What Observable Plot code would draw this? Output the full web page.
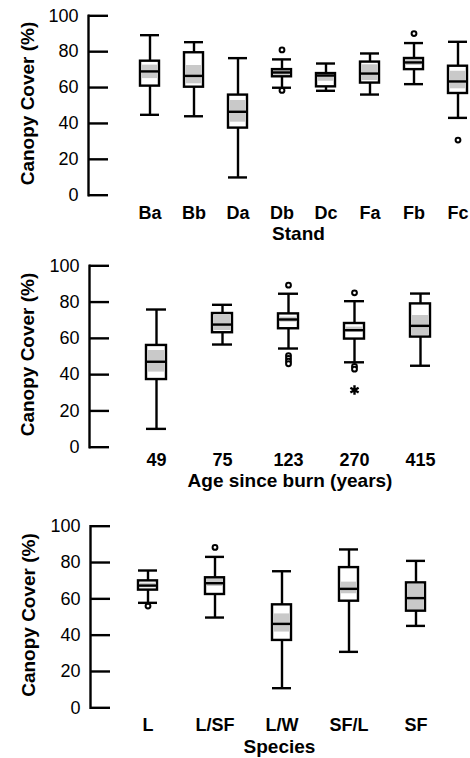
<!DOCTYPE html>
<html>
<head>
<meta charset="utf-8">
<script src="https://cdn.jsdelivr.net/npm/d3@7"></script>
<script src="https://cdn.jsdelivr.net/npm/@observablehq/plot@0.6"></script>
<style>
  html, body { margin: 0; padding: 0; background: #fff; }
  #chart svg { display: block; }
</style>
</head>
<body>
<div id="chart"></div>
<script>
// ---- Data ----
const yTicks = [0, 20, 40, 60, 80, 100];

// Panel 1: Stand
const stands    = ["Ba", "Bb", "Da", "Db", "Dc", "Fa", "Fb", "Fc"];
const standLo   = [44.8, 44.0,  9.9, 59.9, 58.2, 56.1, 61.9, 43.1];
const standQ1   = [60.8, 60.2, 37.4, 66.0, 60.4, 62.5, 70.0, 56.7];
const standMed  = [69.0, 66.5, 46.5, 68.4, 66.7, 67.8, 74.0, 63.4];
const standQ3   = [74.7, 79.4, 55.8, 70.0, 67.8, 74.2, 76.2, 71.9];
const standHi   = [89.2, 85.3, 76.4, 75.7, 73.4, 79.0, 84.8, 85.5];
const standCiLo = [65.0, 62.1, 40.7, 66.7, 63.5, 63.9, 72.3, 59.3];
const standCiHi = [72.5, 72.3, 52.8, 70.0, 67.8, 72.7, 75.5, 69.1];
const standOutCat = ["Db", "Db", "Fb", "Fc"];
const standOutVal = [81.0, 58.4, 90.1, 30.7];

// Panel 2: Age since burn
const ages    = ["49", "75", "123", "270", "415"];
const ageLo   = [10.1, 56.6, 54.4, 46.8, 44.9];
const ageQ1   = [37.3, 63.1, 65.3, 59.6, 60.7];
const ageMed  = [47.1, 67.6, 70.4, 64.5, 66.9];
const ageQ3   = [56.1, 73.7, 73.5, 68.2, 79.0];
const ageHi   = [75.9, 78.5, 84.6, 80.5, 84.7];
const ageCiLo = [41.4, 64.3, 68.9, 63.4, 61.6];
const ageCiHi = [53.3, 72.6, 71.7, 66.2, 72.6];
const ageOutCat = ["123", "123", "123", "123", "123", "270", "270", "270"];
const ageOutVal = [89.3, 50.5, 49.0, 47.5, 46.0, 85.1, 44.5, 43.0];
const ageExtCat = ["270"];
const ageExtVal = [31.5];

// Panel 3: Species
const species   = ["L", "L/SF", "L/W", "SF/L", "SF"];
const spLo      = [57.8, 49.7, 10.8, 30.8, 45.1];
const spQ1      = [64.8, 62.4, 37.1, 58.7, 53.2];
const spMed     = [67.3, 68.6, 46.2, 65.5, 60.4];
const spQ3      = [69.9, 71.6, 56.7, 77.2, 68.8];
const spHi      = [75.6, 83.1, 75.2, 87.2, 80.9];
const spCiLo    = [66.1, 66.8, 41.7, 62.8, 53.6];
const spCiHi    = [68.6, 71.0, 51.7, 69.2, 67.9];
const spOutCat  = ["L", "L/SF"];
const spOutVal  = [56.0, 88.3];

const FONT = "'Liberation Sans', Arial, Helvetica, sans-serif";
const W = 470;

function rows(cats, lo, q1, med, q3, hi, cil, cih) {
  return cats.map((c, i) => ({cat: c, lo: lo[i], q1: q1[i], med: med[i], q3: q3[i], hi: hi[i],
    cil: Math.max(cil[i], q1[i]), cih: Math.min(cih[i], q3[i])}));
}
function pts(cats, vals) { return cats.map((c, i) => ({cat: c, v: vals[i]})); }

function panel(cfg) {
  const data = rows(...cfg.stats);
  const outs = pts(...cfg.outliers);
  const exts = cfg.extremes ? pts(...cfg.extremes) : [];
  const bw = cfg.bw;
  const step = (cfg.c1 - cfg.c0) / (cfg.domain.length - 1);
  const sw = 2.4;
  return Plot.plot({
    width: W,
    height: cfg.height,
    marginTop: cfg.top,
    marginBottom: cfg.height - cfg.zero,
    marginLeft: cfg.left,
    marginRight: 0,
    style: {fontFamily: FONT, color: "#000", background: "#fff"},
    x: {type: "band", domain: cfg.domain, range: [cfg.c0 - bw / 2, cfg.c1 + bw / 2],
        paddingInner: 1 - bw / step, paddingOuter: 0, align: 0.5},
    y: {domain: [0, 100]},
    marks: [
      // y axis line and inward ticks
      Plot.frame({anchor: "left", stroke: "#000", strokeWidth: sw}),
      Plot.ruleY(yTicks, {y: d => d, stroke: "#000", strokeWidth: sw,
        insetRight: W - cfg.left - 20}),
      Plot.axisY({ticks: yTicks, tickSize: 0, tickPadding: 10, fontSize: 18, label: null}),
      Plot.axisX({tickSize: 0, tickPadding: cfg.xPad, fontSize: 18, fontWeight: "bold", label: null}),
      // whiskers
      Plot.ruleX(data, {x: "cat", y1: "lo", y2: "q1", stroke: "#000", strokeWidth: sw}),
      Plot.ruleX(data, {x: "cat", y1: "q3", y2: "hi", stroke: "#000", strokeWidth: sw}),
      Plot.tickY(data, {x: "cat", y: "lo", stroke: "#000", strokeWidth: sw}),
      Plot.tickY(data, {x: "cat", y: "hi", stroke: "#000", strokeWidth: sw}),
      // box
      Plot.barY(data, {x: "cat", y1: "q1", y2: "q3", fill: "#fff"}),
      Plot.barY(data, {x: "cat", y1: "cil", y2: "cih", fill: "#c9c9c9", insetLeft: 2, insetRight: 2}),
      Plot.barY(data, {x: "cat", y1: "q1", y2: "q3", fill: "none", stroke: "#000", strokeWidth: sw}),
      Plot.tickY(data, {x: "cat", y: "med", stroke: "#000", strokeWidth: sw}),
      // outliers
      Plot.dot(outs, {x: "cat", y: "v", r: 2.4, fill: "#fff", stroke: "#000", strokeWidth: 2}),
      Plot.dot(exts, {x: "cat", y: "v", r: 4.5, symbol: "asterisk", stroke: "#000", strokeWidth: 2.4}),
      // titles
      Plot.text([cfg.yTitle], {frameAnchor: "left", textAnchor: "middle", lineAnchor: "middle",
        rotate: -90, dx: cfg.yDx, dy: -2, fontSize: 19, fontWeight: "bold", fill: "#000"}),
      Plot.text([cfg.xTitle], {frameAnchor: "bottom", textAnchor: "middle", dy: cfg.xTitleDy, dx: cfg.xTitleDx,
        lineAnchor: "middle", fontSize: 19, fontWeight: "bold", fill: "#000"})
    ]
  });
}

const chart = document.getElementById("chart");
chart.append(panel({
  stats: [stands, standLo, standQ1, standMed, standQ3, standHi, standCiLo, standCiHi],
  outliers: [standOutCat, standOutVal],
  domain: stands, c0: 148, c1: 458, bw: 19,
  height: 250, top: 15.3, zero: 194.7, left: 88, xPad: 11,
  yTitle: "Canopy Cover (%)", yDx: -61,
  xTitle: "Stand", xTitleDy: 38.6, xTitleDx: 19
}));
chart.append(panel({
  stats: [ages, ageLo, ageQ1, ageMed, ageQ3, ageHi, ageCiLo, ageCiHi],
  outliers: [ageOutCat, ageOutVal],
  extremes: [ageExtCat, ageExtVal],
  domain: ages, c0: 154, c1: 421, bw: 20,
  height: 260, top: 15.3, zero: 196.7, left: 89, xPad: 6,
  yTitle: "Canopy Cover (%)", yDx: -61.5,
  xTitle: "Age since burn (years)", xTitleDy: 33.3, xTitleDx: 10
}));
chart.append(panel({
  stats: [species, spLo, spQ1, spMed, spQ3, spHi, spCiLo, spCiHi],
  outliers: [spOutCat, spOutVal],
  domain: species, c0: 147, c1: 415, bw: 19,
  height: 248, top: 15.7, zero: 197.3, left: 90, xPad: 10,
  yTitle: "Canopy Cover (%)", yDx: -62,
  xTitle: "Species", xTitleDy: 38.7, xTitleDx: -1
}));
</script>
</body>
</html>
